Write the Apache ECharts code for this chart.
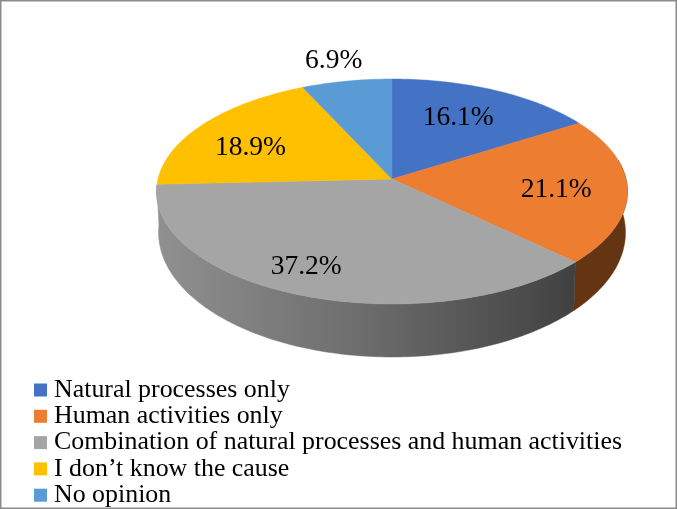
<!DOCTYPE html>
<html>
<head>
<meta charset="utf-8">
<style>
  html, body { margin: 0; padding: 0; background: #fff; }
  #main { width: 677px; height: 509px; }
</style>
</head>
<body>
<div id="main"></div>
<script src="https://cdn.jsdelivr.net/npm/echarts@6/dist/echarts.min.js"></script>
<script>
var categories = [
  'Natural processes only',
  'Human activities only',
  'Combination of natural processes and human activities',
  'I don’t know the cause',
  'No opinion'
]
var values = [16.1, 21.1, 37.2, 18.9, 6.9]
var colors = ['#4472C4', '#ED7D31', '#A5A5A5', '#FFC000', '#5B9BD5']

// label placement: radius as a share of the pie, plus a small nudge in px
var labelRadius = [0.7, 0.7, 0.7, 0.7, 1.2]
var labelNudge = [[-8, 3], [0, 3], [-24, 9], [-7, 8], [-5, -3]]

var FONT = '"Liberation Serif", "Times New Roman", serif'
var total = values.reduce(function (a, b) { return a + b }, 0)

// pie lies flat and is seen in perspective, so the apex is not the ellipse centre
var topFace = { cx: 392, cy: 179, rx: 234, ry: 111.1 }
var baseFace = { cx: 392, cy: 218.6, rx: 232, ry: 123 }
var PERSP = 1 / 9

function project (face, rho, deg) {
  var a = deg * Math.PI / 180
  var u = rho * Math.sin(a)
  var v = -rho * Math.cos(a)
  var w = 1 / (1 - PERSP * v)
  return [face.cx + face.rx * u * w, face.cy + face.ry * v * w]
}

function sliceRange (i) {
  var before = 0
  for (var k = 0; k < i; k++) before += values[k]
  return [before / total * 360, (before + values[i]) / total * 360]
}

function arc (face, from, to) {
  var pts = []
  var n = Math.max(2, Math.ceil(Math.abs(to - from)))
  for (var k = 0; k <= n; k++) {
    pts.push(project(face, 1, from + (to - from) * k / n))
  }
  return pts
}

function renderTop (i) {
  return function () {
    var r = sliceRange(i)
    var apex = project(topFace, 0, 0)
    var mid = (r[0] + r[1]) / 2
    var p = project(topFace, labelRadius[i], mid)
    return {
      type: 'group',
      children: [
        {
          type: 'polygon',
          shape: { points: [apex].concat(arc(topFace, r[0], r[1])) },
          style: { fill: colors[i], stroke: colors[i], lineWidth: 0.5 }
        },
        {
          type: 'text',
          z2: 10,
          style: {
            x: p[0] + labelNudge[i][0],
            y: p[1] + labelNudge[i][1],
            text: values[i].toFixed(1) + '%',
            fill: '#000',
            font: '27.5px ' + FONT,
            align: 'center',
            verticalAlign: 'middle'
          }
        }
      ]
    }
  }
}

function sideFill (i) {
  if (i === 2) {
    return new echarts.graphic.LinearGradient(157, 0, 574, 0, [
      { offset: 0, color: '#909090' },
      { offset: 0.5, color: '#6c6c6c' },
      { offset: 1, color: '#414141' }
    ], true)
  }
  return '#643413'
}

function renderSide (i) {
  return function () {
    var r = sliceRange(i)
    // only the front of the rim shows; a bit extra on the right is hidden under the top
    var from = Math.max(r[0], 80)
    var to = Math.min(r[1], 267)
    if (to <= from) return { type: 'group', children: [] }
    var fill = sideFill(i)
    return {
      type: 'polygon',
      shape: { points: arc(topFace, from, to).concat(arc(baseFace, to, from)) },
      style: { fill: fill, stroke: fill, lineWidth: 0.5 }
    }
  }
}

var series = []
categories.forEach(function (name, i) {
  series.push({
    name: name + ' side',
    type: 'custom',
    coordinateSystem: 'none',
    silent: true,
    z: 1,
    renderItem: renderSide(i),
    data: [values[i]]
  })
})
categories.forEach(function (name, i) {
  series.push({
    name: name,
    type: 'custom',
    coordinateSystem: 'none',
    silent: true,
    z: 2,
    itemStyle: { color: colors[i] },
    renderItem: renderTop(i),
    data: [values[i]]
  })
})

var chart = echarts.init(document.getElementById('main'), null, { renderer: 'canvas' })
chart.setOption({
  animation: false,
  backgroundColor: '#fff',
  graphic: [{
    type: 'rect',
    z: 0,
    silent: true,
    shape: { x: 0.5, y: 0.5, width: 676, height: 508 },
    style: { fill: 'none', stroke: '#8c8c8c', lineWidth: 2 }
  }],
  legend: {
    data: categories,
    orient: 'vertical',
    left: 34,
    top: 377,
    padding: 0,
    icon: 'rect',
    itemWidth: 13,
    itemHeight: 13,
    itemGap: 0.3,
    selectedMode: false,
    textStyle: {
      fontFamily: FONT,
      fontSize: 25.9,
      color: '#000',
      padding: [0, 0, 0, 2]
    }
  },
  series: series
})
</script>
</body>
</html>
